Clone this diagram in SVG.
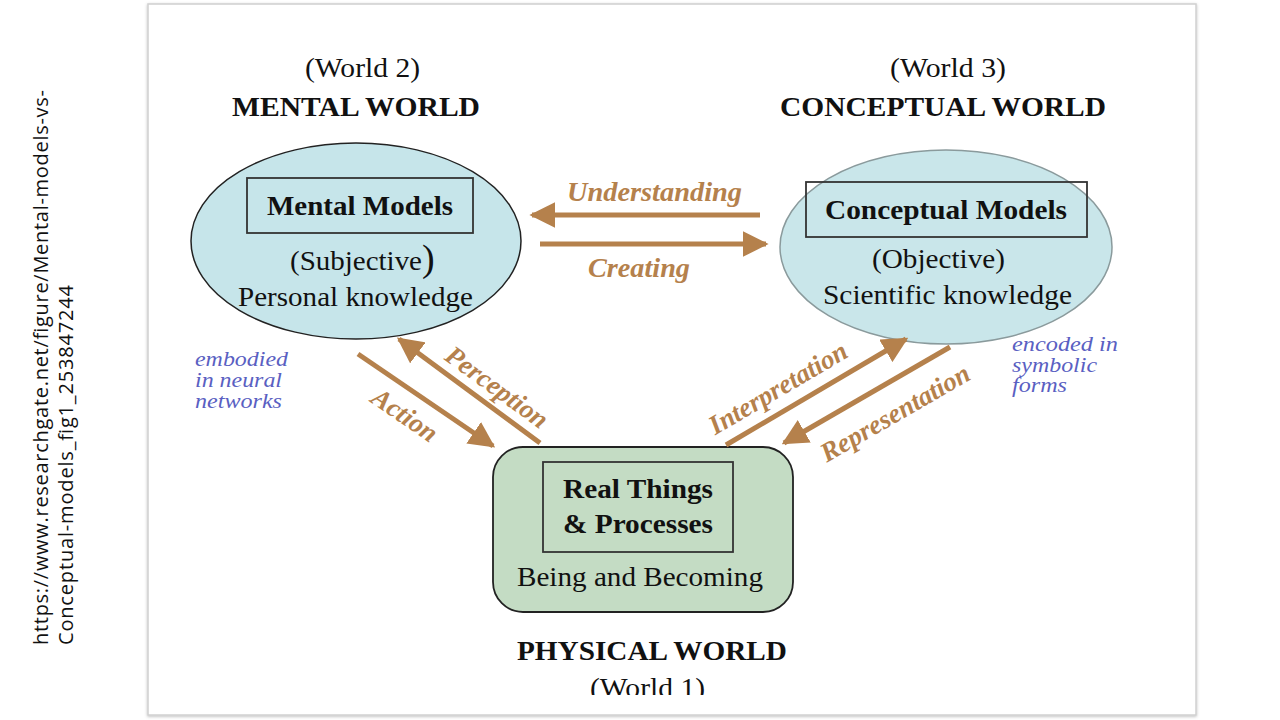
<svg xmlns="http://www.w3.org/2000/svg" width="1280" height="720" viewBox="0 0 1280 720">
<defs>
<style>
.serif{font-family:"Liberation Serif","Times New Roman",serif;fill:#111;}
.b{font-weight:bold;}
.lbl{font-family:"Liberation Serif","Times New Roman",serif;font-weight:bold;font-style:italic;fill:#b5814c;font-size:27px;}
.note{font-family:"Liberation Serif","Times New Roman",serif;font-style:italic;fill:#5a5fc2;font-size:21px;}
.arr{stroke:#b5814c;stroke-width:5;fill:none;}
.side{font-family:"Open Sans","Liberation Sans",sans-serif;font-size:20px;fill:#111;}
</style>
<marker id="ah" viewBox="0 0 10 10" refX="9" refY="5" markerWidth="5.2" markerHeight="5.2" orient="auto" markerUnits="strokeWidth">
<path d="M0,0 L10,5 L0,10 z" fill="#b5814c"/>
</marker>
<clipPath id="cl"><rect x="0" y="0" width="1280" height="695"/></clipPath>
<filter id="sh" x="-2%" y="-2%" width="104%" height="104%"><feDropShadow dx="0" dy="1" stdDeviation="1.5" flood-color="#000" flood-opacity="0.25"/></filter>
</defs>
<rect width="1280" height="720" fill="#fff"/>
<rect x="148" y="4" width="1048" height="711" fill="#fff" stroke="#d0d0d0" stroke-width="1.5" filter="url(#sh)"/>

<g id="side-text">
<text class="side" transform="translate(48,645) rotate(-90)" textLength="555">https://www.researchgate.net/figure/Mental-models-vs-</text>
<text class="side" transform="translate(73,645) rotate(-90)" textLength="360">Conceptual-models_fig1_253847244</text>
</g>

<g id="mental-world">
<text class="serif" x="305" y="77" font-size="27" textLength="115" lengthAdjust="spacingAndGlyphs">(World 2)</text>
<text class="serif b" x="232" y="116" font-size="28" textLength="248" lengthAdjust="spacingAndGlyphs">MENTAL WORLD</text>
<ellipse cx="356" cy="241" rx="165" ry="98" fill="#c6e5ea" stroke="#222" stroke-width="1.5"/>
<rect x="247" y="178" width="226" height="55" fill="none" stroke="#333" stroke-width="1.8"/>
<text class="serif b" x="267" y="215" font-size="28" textLength="186" lengthAdjust="spacingAndGlyphs">Mental Models</text>
<text class="serif" x="290" y="270" font-size="28" textLength="132" lengthAdjust="spacingAndGlyphs">(Subjective</text>
<text class="serif" x="422" y="271" font-size="38">)</text>
<text class="serif" x="238" y="306" font-size="28" textLength="235" lengthAdjust="spacingAndGlyphs">Personal knowledge</text>
</g>

<g id="conceptual-world">
<text class="serif" x="890" y="77" font-size="27" textLength="116" lengthAdjust="spacingAndGlyphs">(World 3)</text>
<text class="serif b" x="780" y="116" font-size="28" textLength="326" lengthAdjust="spacingAndGlyphs">CONCEPTUAL WORLD</text>
<ellipse cx="946" cy="247" rx="166" ry="97" fill="#c9e6ea" stroke="#8a9a9c" stroke-width="1.5"/>
<rect x="806" y="182" width="281" height="55" fill="none" stroke="#333" stroke-width="1.8"/>
<text class="serif b" x="825" y="219" font-size="28" textLength="242" lengthAdjust="spacingAndGlyphs">Conceptual Models</text>
<text class="serif" x="872" y="268" font-size="28" textLength="133" lengthAdjust="spacingAndGlyphs">(Objective)</text>
<text class="serif" x="823" y="304" font-size="28" textLength="249" lengthAdjust="spacingAndGlyphs">Scientific knowledge</text>
</g>

<g id="physical-world">
<rect x="493" y="447" width="300" height="165" rx="30" ry="30" fill="#c4dcc4" stroke="#222" stroke-width="1.8"/>
<rect x="543" y="462" width="190" height="90" fill="none" stroke="#333" stroke-width="1.8"/>
<text class="serif b" x="563" y="498" font-size="28" textLength="150" lengthAdjust="spacingAndGlyphs">Real Things</text>
<text class="serif b" x="563" y="533" font-size="28" textLength="150" lengthAdjust="spacingAndGlyphs">&amp; Processes</text>
<text class="serif" x="517" y="586" font-size="28" textLength="246" lengthAdjust="spacingAndGlyphs">Being and Becoming</text>
<text class="serif b" x="517" y="660" font-size="28" textLength="270" lengthAdjust="spacingAndGlyphs">PHYSICAL WORLD</text>
<text class="serif" x="590" y="697" font-size="27" textLength="115" lengthAdjust="spacingAndGlyphs" clip-path="url(#cl)">(World 1)</text>
</g>

<g id="notes">
<text class="note"><tspan x="195" y="366" textLength="93" lengthAdjust="spacingAndGlyphs">embodied</tspan><tspan x="195" y="387" textLength="87" lengthAdjust="spacingAndGlyphs">in neural</tspan><tspan x="195" y="408" textLength="87" lengthAdjust="spacingAndGlyphs">networks</tspan></text>
<text class="note"><tspan x="1012" y="351" textLength="106" lengthAdjust="spacingAndGlyphs">encoded in</tspan><tspan x="1012" y="372" textLength="85" lengthAdjust="spacingAndGlyphs">symbolic</tspan><tspan x="1012" y="392" textLength="55" lengthAdjust="spacingAndGlyphs">forms</tspan></text>
</g>

<g id="connectors">
<line class="arr" x1="760" y1="215" x2="532" y2="215" marker-end="url(#ah)"/>
<line class="arr" x1="540" y1="244" x2="766" y2="244" marker-end="url(#ah)"/>
<line class="arr" x1="358" y1="354" x2="493" y2="446" marker-end="url(#ah)"/>
<line class="arr" x1="540" y1="443" x2="399" y2="339" marker-end="url(#ah)"/>
<line class="arr" x1="726" y1="445" x2="906" y2="339" marker-end="url(#ah)"/>
<line class="arr" x1="950" y1="347" x2="784" y2="443" marker-end="url(#ah)"/>
<text class="lbl" x="567" y="201" textLength="175" lengthAdjust="spacingAndGlyphs">Understanding</text>
<text class="lbl" x="588" y="277" textLength="102" lengthAdjust="spacingAndGlyphs">Creating</text>
<text class="lbl" transform="translate(405,415) rotate(34.5)" text-anchor="middle" dy="9">Action</text>
<text class="lbl" transform="translate(497,387) rotate(36)" text-anchor="middle" dy="9">Perception</text>
<text class="lbl" transform="translate(778,388) rotate(-30.5)" text-anchor="middle" dy="9" font-size="28">Interpretation</text>
<text class="lbl" transform="translate(895,413) rotate(-30)" text-anchor="middle" dy="9" font-size="28">Representation</text>
</g>
</svg>
